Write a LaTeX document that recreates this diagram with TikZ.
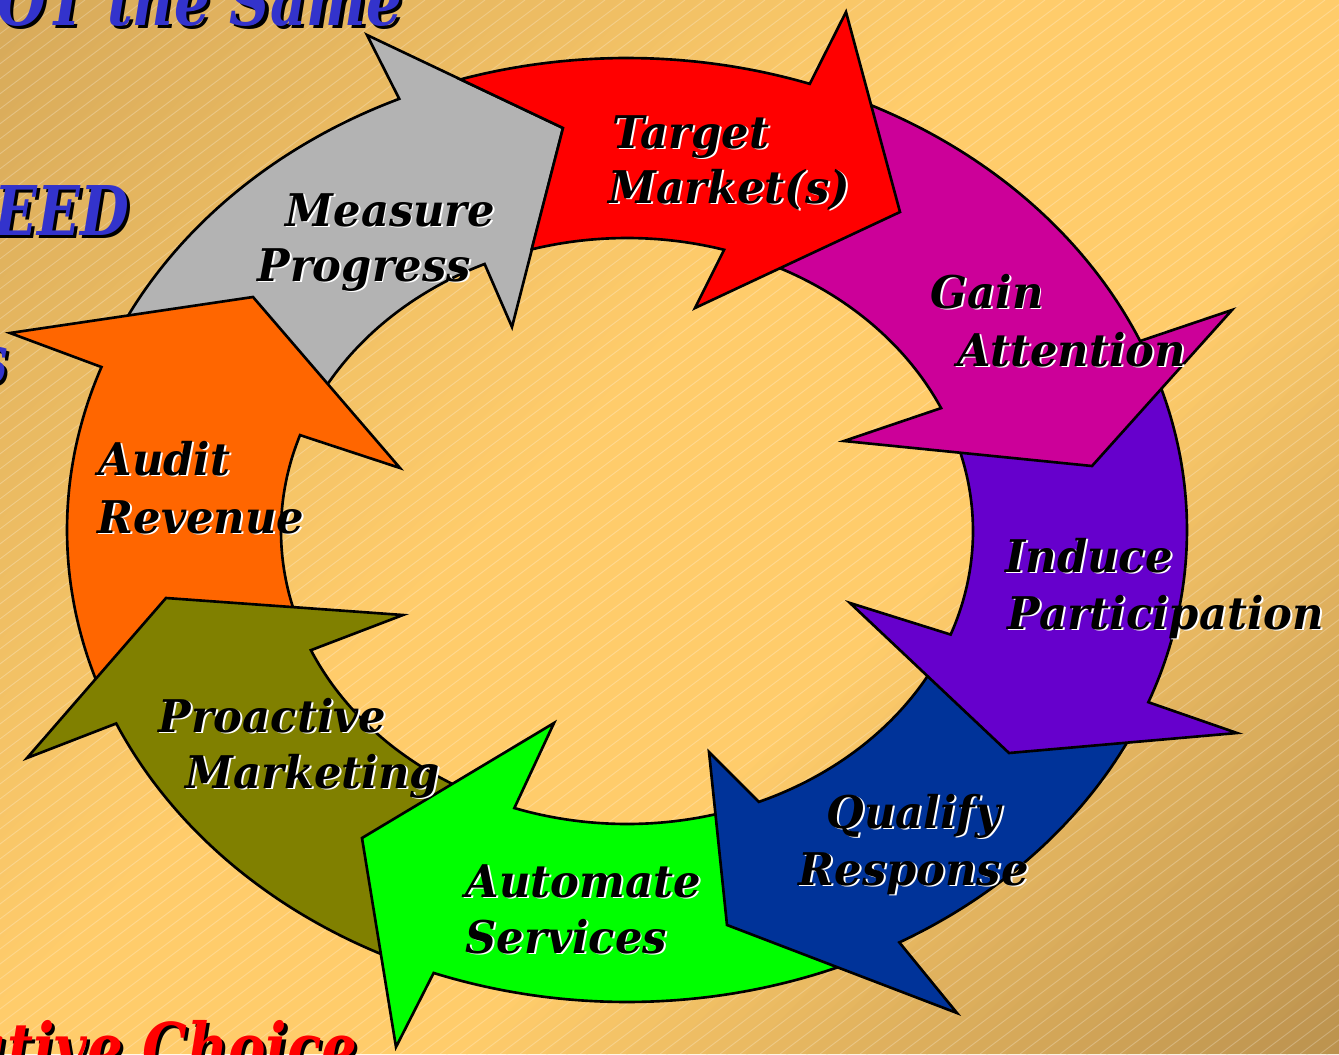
\documentclass[tikz,border=0pt]{standalone}
\usepackage{fontspec}
\newfontfamily\lblfont{DejaVu Serif}[FakeStretch=0.96]
\newfontfamily\ttlfont{DejaVu Serif}[FakeStretch=0.82]
\definecolor{bgTL}{HTML}{D7AA5A}
\definecolor{bgMid}{HTML}{FFCC6B}
\definecolor{bgBR}{HTML}{BA914E}
\definecolor{cred}{HTML}{FF0000}
\definecolor{cmag}{HTML}{CC0099}
\definecolor{cpur}{HTML}{6600CC}
\definecolor{cblu}{HTML}{003399}
\definecolor{cgrn}{HTML}{00FF00}
\definecolor{coli}{HTML}{808000}
\definecolor{corg}{HTML}{FF6600}
\definecolor{cgry}{HTML}{B3B3B3}
\definecolor{ttlblue}{HTML}{3333CC}
\tikzset{
  ringseg/.style={draw=black,line width=0.75pt,line join=miter,miter limit=10},
  oarc/.style 2 args={insert path={-- plot[domain=#1:#2,samples=50,variable=\t]
      ({627+560*cos(\t)},{530-472*sin(\t)})}},
  iarc/.style 2 args={insert path={-- plot[domain=#1:#2,samples=50,variable=\t]
      ({627+346*cos(\t)},{531-293*sin(\t)})}},
  lbl/.style={anchor=base west,inner sep=0pt,text=black,
      font=\lblfont\bfseries\itshape\fontsize{12.8}{15}\selectfont},
  ttl/.style={anchor=base east,inner sep=0pt,
      font=\ttlfont\bfseries\itshape\fontsize{19.5}{23}\selectfont}
}
% label with a white drop shadow
\newcommand\shlabel[4]{%
  \node[lbl,text=white,xshift=0.55pt,yshift=-0.55pt] at (#2,#3) {#4};
  \node[lbl] (#1) at (#2,#3) {#4};}
% heading text with a black drop shadow
\newcommand\shtitle[5]{%
  \node[ttl,text=black,xshift=0.9pt,yshift=-0.9pt] at (#2,#3) {#5};
  \node[ttl,text=#4] (#1) at (#2,#3) {#5};}
\begin{document}
\begin{tikzpicture}[x=0.01cm,y=-0.01cm]
\useasboundingbox (0,0) rectangle (1339,1054);
% background: diagonal gradient, dark corners top-left and bottom-right
\begin{scope}
  \clip (0,0) rectangle (1339,1054);
  \foreach \s in {0,20,...,980} {
    \pgfmathsetmacro\mixpct{\s/10}
    \fill[bgMid!\mixpct!bgTL] (\s,0) -- ({\s+22},0) -- ({\s+22-1054},1054) -- ({\s-1054},1054) -- cycle;
  }
  \fill[bgMid] (1000,0) -- (1502,0) -- (448,1054) -- (-54,1054) -- cycle;
  \foreach \s in {1500,1520,...,2400} {
    \pgfmathsetmacro\mixpct{100-(\s-1500)/9}
    \fill[bgMid!\mixpct!bgBR] (\s,0) -- ({\s+22},0) -- ({\s+22-1054},1054) -- ({\s-1054},1054) -- cycle;
  }
  \foreach \k in {-72,...,68}
    \draw[white,opacity=0.25,line width=0.25pt] ({\k*20},1054) -- ({\k*20+1405},0);
\end{scope}

% headings at the slide edges
\shtitle{h1}{403}{25}{ttlblue}{OT the Same}
\shtitle{h2}{130}{235}{ttlblue}{EED}
\shtitle{h3}{9}{383}{ttlblue}{s}
\shtitle{h4}{358}{1072}{cred}{ative Choice}

% the ring of arrows (each head lies on the next arrow's tail)
\path[ringseg,fill=cgry] ({627+346*cos(157)},{531-293*sin(157)}) [oarc={157}{114}]
  -- (367,35) -- (563,128) -- (512,327) [iarc={114.3}{157}] -- cycle;
\path[ringseg,fill=corg] ({627+346*cos(201)},{531-293*sin(201)}) [oarc={201}{159.8}]
  -- (10,333) -- (253,297) -- (400,468) [iarc={160.9}{201}] -- cycle;
\path[ringseg,fill=coli] ({627+346*cos(247)},{531-293*sin(247)}) [oarc={247}{204.2}]
  -- (27,758) -- (166,598) -- (403,615) [iarc={204}{247}] -- cycle;
\path[ringseg,fill=cgrn] ({627+346*cos(290)},{531-293*sin(290)}) [oarc={296}{249.8}]
  -- (396,1047) -- (362,838) -- (554,723) [iarc={251}{290}] -- cycle;
\path[ringseg,fill=cblu] ({627+346*cos(336)},{531-293*sin(336)}) [oarc={336}{299.1}]
  -- (957,1013) -- (727,925) -- (709,752) [iarc={292.4}{336}] -- cycle;
\path[ringseg,fill=cpur] ({627+346*cos(21)},{531-293*sin(21)}) [oarc={21}{-21.4}]
  -- (1237,733) -- (1009,753) -- (850,603) [iarc={-20.7}{21}] -- cycle;
\path[ringseg,fill=cmag] ({627+346*cos(68)},{531-293*sin(68)}) [oarc={68}{23.6}]
  -- (1232,310) -- (1092,466) -- (844,441) [iarc={24.8}{68}] -- cycle;
\path[ringseg,fill=cred] ({627+346*cos(106)},{531-293*sin(106)}) -- (563,128)
  [oarc={107.3}{70.95}] -- (846,12) -- (900,212) -- (695,308) [iarc={73.7}{106}] -- cycle;

% step labels
\shlabel{t1}{612}{148}{Target}
\shlabel{t2}{608}{203}{Market(s)}
\shlabel{g1}{930}{308}{Gain}
\shlabel{g2}{957}{366}{Attention}
\shlabel{i1}{1005}{572}{Induce}
\shlabel{i2}{1007}{629}{Participation}
\shlabel{q1}{826}{828}{Qualify}
\shlabel{q2}{798}{885}{Response}
\shlabel{a1}{465}{897}{Automate}
\shlabel{a2}{465}{953}{Services}
\shlabel{p1}{158}{732}{Proactive}
\shlabel{p2}{185}{788}{Marketing}
\shlabel{r1}{98}{475}{Audit}
\shlabel{r2}{97}{533}{Revenue}
\shlabel{m1}{285}{226}{Measure}
\shlabel{m2}{257}{281}{Progress}
\end{tikzpicture}
\end{document}
